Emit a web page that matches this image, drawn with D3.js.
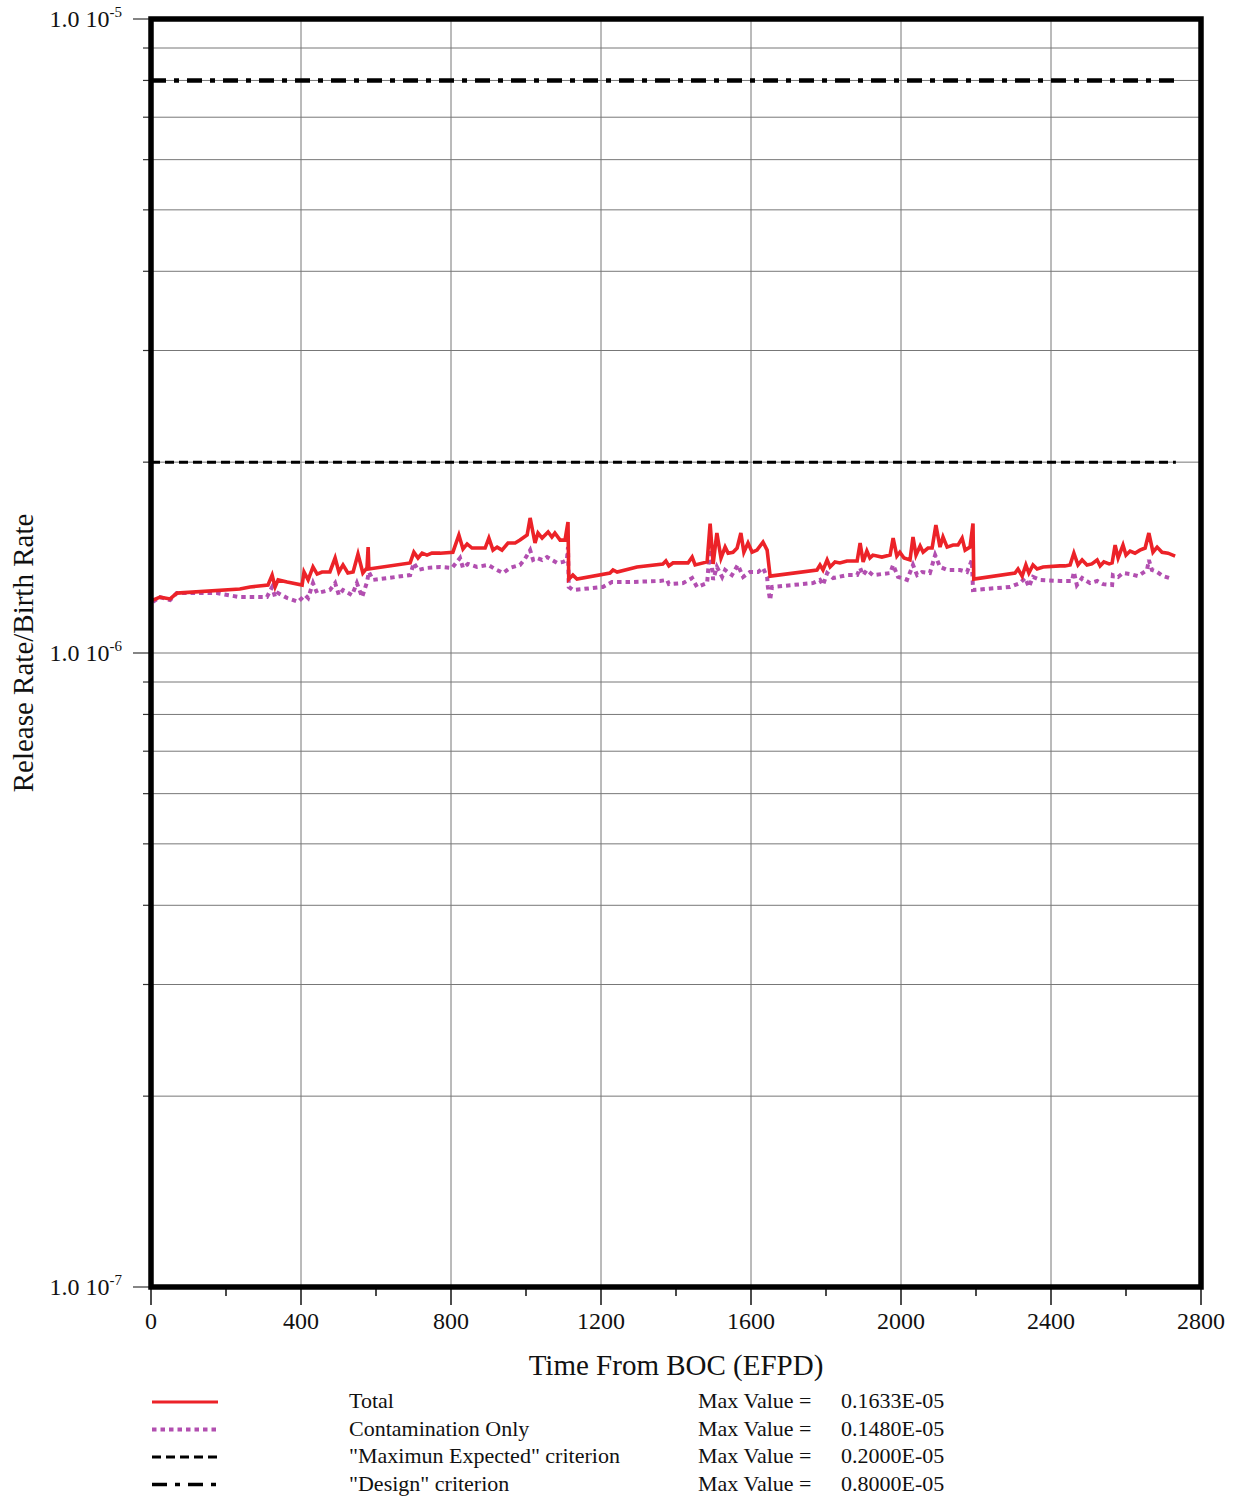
<!DOCTYPE html>
<html>
<head>
<meta charset="utf-8">
<script src="https://cdn.jsdelivr.net/npm/d3@7"></script>
<style>
  body { margin: 0; background: #fff; }
  text { font-family: "Liberation Serif", "Times New Roman", serif; fill: #111; }
</style>
</head>
<body>
<svg id="chart" width="1239" height="1496"></svg>
<script>
// Release rate / birth rate vs time, values in units of 1e-6.

var total_t = [5, 24, 51, 69, 237, 264, 312, 323, 331, 339, 363, 403, 408, 419, 432, 443, 456, 477, 491, 501,
  512, 525, 539, 552, 565, 576, 579, 581, 691, 701, 712, 723, 736, 749, 771, 805, 821, 832, 843, 856,
  891, 901, 912, 923, 936, 952, 971, 984, 1003, 1011, 1024, 1032, 1043, 1059, 1069, 1077, 1091, 1104, 1112, 1114,
  1125, 1136, 1224, 1232, 1243, 1296, 1365, 1373, 1381, 1392, 1432, 1443, 1451, 1483, 1491, 1499, 1509, 1520, 1531, 1539,
  1552, 1563, 1573, 1581, 1592, 1603, 1616, 1632, 1643, 1651, 1776, 1784, 1792, 1803, 1811, 1824, 1837, 1856, 1883, 1891,
  1899, 1909, 1917, 1925, 1949, 1971, 1979, 1989, 1997, 2008, 2024, 2032, 2040, 2051, 2059, 2072, 2083, 2093, 2104, 2112,
  2123, 2139, 2152, 2163, 2171, 2184, 2192, 2194, 2304, 2312, 2323, 2333, 2341, 2352, 2363, 2379, 2424, 2437, 2451, 2461,
  2472, 2483, 2496, 2509, 2523, 2531, 2541, 2555, 2563, 2571, 2579, 2592, 2600, 2611, 2624, 2637, 2651, 2661, 2672, 2683,
  2696, 2712, 2731];
var total_v = [1.212, 1.225, 1.217, 1.243, 1.262, 1.271, 1.280, 1.327, 1.271, 1.304, 1.294, 1.280, 1.342, 1.304, 1.367, 1.332, 1.342, 1.342, 1.412, 1.342,
  1.377, 1.337, 1.342, 1.432, 1.337, 1.362, 1.469, 1.357, 1.387, 1.442, 1.412, 1.437, 1.427, 1.437, 1.437, 1.442, 1.535, 1.459, 1.486, 1.464,
  1.464, 1.518, 1.453, 1.469, 1.453, 1.491, 1.491, 1.507, 1.535, 1.633, 1.491, 1.546, 1.518, 1.552, 1.524, 1.546, 1.507, 1.507, 1.609, 1.308,
  1.327, 1.308, 1.337, 1.352, 1.342, 1.367, 1.382, 1.397, 1.372, 1.387, 1.387, 1.417, 1.377, 1.392, 1.600, 1.382, 1.546, 1.412, 1.469, 1.437,
  1.442, 1.464, 1.546, 1.442, 1.491, 1.442, 1.453, 1.496, 1.453, 1.322, 1.352, 1.377, 1.352, 1.402, 1.367, 1.392, 1.387, 1.397, 1.397, 1.491,
  1.392, 1.448, 1.412, 1.427, 1.417, 1.427, 1.518, 1.422, 1.442, 1.412, 1.402, 1.524, 1.427, 1.475, 1.442, 1.464, 1.464, 1.592, 1.469, 1.524,
  1.469, 1.480, 1.480, 1.518, 1.453, 1.469, 1.600, 1.308, 1.337, 1.357, 1.322, 1.377, 1.337, 1.377, 1.357, 1.367, 1.372, 1.372, 1.377, 1.437,
  1.377, 1.402, 1.377, 1.382, 1.402, 1.372, 1.392, 1.382, 1.387, 1.480, 1.412, 1.480, 1.427, 1.448, 1.437, 1.453, 1.464, 1.546, 1.442, 1.469,
  1.442, 1.437, 1.422];

var contam_t = [5, 24, 51, 69, 176, 237, 309, 323, 331, 339, 363, 392, 411, 419, 432, 443, 477, 491, 501, 512,
  536, 549, 563, 576, 581, 592, 691, 701, 712, 736, 771, 803, 824, 832, 845, 869, 899, 917, 939, 957,
  984, 997, 1011, 1019, 1029, 1043, 1056, 1069, 1083, 1099, 1109, 1112, 1114, 1125, 1205, 1229, 1277, 1357, 1376, 1381,
  1419, 1443, 1456, 1483, 1491, 1499, 1509, 1523, 1531, 1549, 1565, 1579, 1597, 1619, 1632, 1643, 1645, 1651, 1656, 1765,
  1784, 1792, 1803, 1819, 1856, 1883, 1891, 1899, 1909, 1925, 1971, 1979, 1992, 2016, 2032, 2043, 2056, 2077, 2091, 2104,
  2123, 2139, 2157, 2176, 2189, 2192, 2291, 2317, 2331, 2341, 2352, 2371, 2424, 2456, 2461, 2469, 2483, 2504, 2523, 2539,
  2563, 2565, 2579, 2592, 2611, 2632, 2656, 2661, 2669, 2683, 2699, 2725];
var contam_v = [1.204, 1.225, 1.212, 1.243, 1.243, 1.225, 1.225, 1.271, 1.225, 1.243, 1.221, 1.204, 1.234, 1.221, 1.289, 1.243, 1.257, 1.289, 1.234, 1.257,
  1.234, 1.289, 1.225, 1.294, 1.342, 1.304, 1.327, 1.387, 1.352, 1.362, 1.367, 1.362, 1.412, 1.362, 1.382, 1.367, 1.377, 1.357, 1.337, 1.362,
  1.377, 1.407, 1.453, 1.402, 1.412, 1.402, 1.417, 1.402, 1.387, 1.392, 1.402, 1.470, 1.271, 1.257, 1.271, 1.294, 1.294, 1.299, 1.304, 1.284,
  1.289, 1.313, 1.271, 1.289, 1.480, 1.304, 1.367, 1.318, 1.352, 1.327, 1.377, 1.318, 1.342, 1.342, 1.362, 1.318, 1.271, 1.212, 1.271, 1.289,
  1.304, 1.280, 1.337, 1.313, 1.327, 1.327, 1.362, 1.327, 1.352, 1.327, 1.337, 1.377, 1.318, 1.304, 1.377, 1.327, 1.342, 1.337, 1.427, 1.367,
  1.352, 1.352, 1.352, 1.342, 1.402, 1.257, 1.271, 1.289, 1.313, 1.271, 1.318, 1.304, 1.299, 1.299, 1.342, 1.280, 1.313, 1.289, 1.299, 1.284,
  1.280, 1.327, 1.318, 1.337, 1.332, 1.322, 1.352, 1.402, 1.352, 1.342, 1.322, 1.308];

// Criteria (1e-6 units) and end time of the run
var max_expected = 2.0;
var design = 8.0;
var t_end = 2733;

var x_ticks = [0, 400, 800, 1200, 1600, 2000, 2400, 2800];
var x_minor = [200, 600, 1000, 1400, 1800, 2200, 2600];
var y_major = [1e-7, 1e-6, 1e-5];
var y_exps = ["-7", "-6", "-5"];

var legend_names = ["Total", "Contamination Only", "\"Maximun Expected\" criterion", "\"Design\" criterion"];
var legend_max = ["0.1633E-05", "0.1480E-05", "0.2000E-05", "0.8000E-05"];

var margin = {left: 151, right: 38, top: 19, bottom: 209};
var svg = d3.select("#chart");
var W = 1239, H = 1496;
var width = W - margin.left - margin.right,
    height = H - margin.top - margin.bottom;

var x = d3.scaleLinear().domain([0, 2800]).range([0, width]);
var y = d3.scaleLog().domain([1e-7, 1e-5]).range([height, 0]);

var g = svg.append("g")
    .attr("transform", "translate(" + margin.left + "," + margin.top + ")");

// minor log gridlines
var y_grid = [];
[1e-7, 1e-6].forEach(function(b) {
  for (var k = 2; k <= 9; k++) y_grid.push(b * k);
});

g.selectAll(".hgrid")
  .data(y_grid.concat(y_major))
  .enter().append("line")
  .attr("x1", 0).attr("x2", width)
  .attr("y1", function(d) { return y(d); })
  .attr("y2", function(d) { return y(d); })
  .attr("stroke", "#777").attr("stroke-width", 1);

g.selectAll(".vgrid")
  .data(x_ticks)
  .enter().append("line")
  .attr("x1", function(d) { return x(d); })
  .attr("x2", function(d) { return x(d); })
  .attr("y1", 0).attr("y2", height)
  .attr("stroke", "#777").attr("stroke-width", 1);

// tick marks outside the frame
g.selectAll(".ytick")
  .data(y_grid.concat(y_major))
  .enter().append("line")
  .attr("x1", function(d) { return y_major.indexOf(d) >= 0 ? -18 : -8; })
  .attr("x2", 0)
  .attr("y1", function(d) { return y(d); })
  .attr("y2", function(d) { return y(d); })
  .attr("stroke", "#333").attr("stroke-width", 1.2);

g.selectAll(".xtick")
  .data(x_ticks.concat(x_minor))
  .enter().append("line")
  .attr("x1", function(d) { return x(d); })
  .attr("x2", function(d) { return x(d); })
  .attr("y1", height)
  .attr("y2", function(d) { return x_ticks.indexOf(d) >= 0 ? height + 18 : height + 9; })
  .attr("stroke", "#111").attr("stroke-width", 1.5);

// criterion lines
var crit = g.append("g");
crit.append("line")
  .attr("x1", x(0)).attr("x2", x(t_end))
  .attr("y1", y(design * 1e-6)).attr("y2", y(design * 1e-6))
  .attr("stroke", "#000").attr("stroke-width", 4.5)
  .attr("stroke-dasharray", "15,8,5,8");
crit.append("line")
  .attr("x1", x(0)).attr("x2", x(t_end))
  .attr("y1", y(max_expected * 1e-6)).attr("y2", y(max_expected * 1e-6))
  .attr("stroke", "#000").attr("stroke-width", 3)
  .attr("stroke-dasharray", "9,5");

// data lines
var line = d3.line()
  .x(function(d) { return x(d[0]); })
  .y(function(d) { return y(d[1] * 1e-6); });

var contam = d3.zip(contam_t, contam_v);
var total = d3.zip(total_t, total_v);

g.append("path")
  .datum(contam)
  .attr("d", line)
  .attr("fill", "none")
  .attr("stroke", "#b24fb0")
  .attr("stroke-width", 4)
  .attr("stroke-dasharray", "4.5,4");

g.append("path")
  .datum(total)
  .attr("d", line)
  .attr("fill", "none")
  .attr("stroke", "#ec2228")
  .attr("stroke-width", 3.6)
  .attr("stroke-linejoin", "miter");

// frame
g.append("rect")
  .attr("x", 0).attr("y", 0)
  .attr("width", width).attr("height", height)
  .attr("fill", "none")
  .attr("stroke", "#000").attr("stroke-width", 5.5);

// y labels
var ylab = g.selectAll(".ylab")
  .data(y_major)
  .enter().append("text")
  .attr("x", -29)
  .attr("y", function(d) { return y(d) + 8; })
  .attr("text-anchor", "end")
  .style("font-size", "24px");
ylab.append("tspan").text("1.0 10");
ylab.append("tspan")
  .attr("dy", -10)
  .style("font-size", "15px")
  .text(function(d, i) { return y_exps[i]; });

// x labels
g.selectAll(".xlab")
  .data(x_ticks)
  .enter().append("text")
  .attr("x", function(d) { return x(d); })
  .attr("y", height + 42)
  .attr("text-anchor", "middle")
  .style("font-size", "24px")
  .text(function(d) { return d; });

// axis titles
svg.append("text")
  .attr("x", margin.left + width / 2)
  .attr("y", 1375)
  .attr("text-anchor", "middle")
  .style("font-size", "29px")
  .text("Time From BOC (EFPD)");

svg.append("text")
  .attr("transform", "translate(33," + (margin.top + y(1e-6)) + ") rotate(-90)")
  .attr("text-anchor", "middle")
  .style("font-size", "29px")
  .text("Release Rate/Birth Rate");

// legend
var leg_styles = [
  {stroke: "#ec2228", w: 3, dash: null},
  {stroke: "#b24fb0", w: 4, dash: "4.5,4"},
  {stroke: "#000", w: 3, dash: "9,5"},
  {stroke: "#000", w: 3.5, dash: "15,8,5,8"}
];

var leg = svg.selectAll(".leg")
  .data(legend_names)
  .enter().append("g")
  .attr("transform", function(d, i) { return "translate(0," + (1402 + i * 27.5) + ")"; });

leg.append("line")
  .attr("x1", 152).attr("x2", 218)
  .attr("y1", 0).attr("y2", 0)
  .attr("stroke", function(d, i) { return leg_styles[i].stroke; })
  .attr("stroke-width", function(d, i) { return leg_styles[i].w; })
  .attr("stroke-dasharray", function(d, i) { return leg_styles[i].dash; });

leg.append("text")
  .attr("x", 349).attr("y", 6)
  .style("font-size", "22px")
  .text(function(d) { return d; });

leg.append("text")
  .attr("x", 698).attr("y", 6)
  .style("font-size", "22px")
  .text("Max Value =");

leg.append("text")
  .attr("x", 841).attr("y", 6)
  .style("font-size", "22px")
  .text(function(d, i) { return legend_max[i]; });
</script>
</body>
</html>
